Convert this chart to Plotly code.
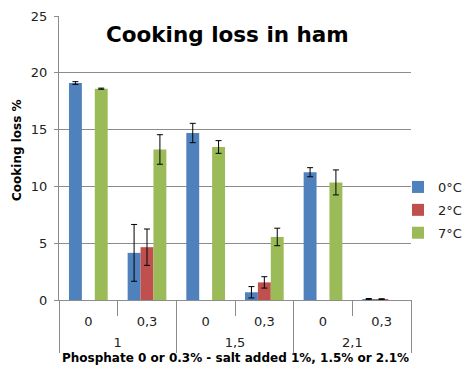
import plotly.graph_objects as go

salt = ["1", "1", "1,5", "1,5", "2,1", "2,1"]
phosphate = ["0", "0,3", "0", "0,3", "0", "0,3"]
salt_groups = ["1", "1,5", "2,1"]

series_names = ["0°C", "2°C", "7°C"]
colors = ["#4F81BD", "#C0504D", "#9BBB59"]

val_0 = [19.1, 4.15, 14.7, 0.68, 11.25, 0.08]
err_0 = [0.12, 2.5, 0.85, 0.5, 0.4, 0.05]
val_2 = [None, 4.65, None, 1.55, None, 0.08]
err_2 = [None, 1.6, None, 0.5, None, 0.03]
val_7 = [18.6, 13.25, 13.47, 5.55, 10.35, None]
err_7 = [0.05, 1.3, 0.56, 0.77, 1.1, None]

vals = [val_0, val_2, val_7]
errs = [err_0, err_2, err_7]

keys = [f"{s} | {p}" for s, p in zip(salt, phosphate)]
n = len(keys)
group_centers = [i + 0.5 for i in range(0, n, 2)]
group_bounds = [i - 0.5 for i in range(0, n + 1, 2)]

fig = go.Figure()
for name, c, v, e in zip(series_names, colors, vals, errs):
    fig.add_trace(go.Bar(
        x=keys, y=v, name=name, marker_color=c,
        marker_line_width=0, legendgroup=name,
        error_y=dict(type="data", array=e, visible=True, color="black",
                     thickness=1, width=3),
    ))
# invisible carrier for the outer (salt) axis
fig.add_trace(go.Scatter(x=group_centers, y=[0] * len(group_centers), xaxis="x2",
                         mode="markers", marker=dict(opacity=0), showlegend=False,
                         hoverinfo="skip"))

fnt = "DejaVu Sans, Verdana, sans-serif"
W, H = 466, 365
L, R, T = 59, 411, 16
AX, AX2 = 300, 353
pw, ph = R - L, AX2 - T

def px(x):
    return (x - L) / pw

def py(y):
    return (AX2 - y) / ph

grey = "#8C8C8C"
fig.update_layout(
    width=W, height=H,
    margin=dict(l=L, r=W - R, t=T, b=H - AX2, autoexpand=False),
    paper_bgcolor="white", plot_bgcolor="white",
    barmode="group", bargap=0.34, bargroupgap=0,
    font=dict(family=fnt, size=12, color="#222"),
    showlegend=True,
    legend=dict(x=px(398), y=py(210), xanchor="left", yanchor="middle",
                font=dict(size=13, color="#222"), itemwidth=30,
                tracegroupgap=3, bgcolor="rgba(0,0,0,0)"),
    annotations=[
        dict(text="<b>Cooking loss in ham</b>", x=px(227), y=py(35),
             xref="paper", yref="paper", xanchor="center", yanchor="middle",
             showarrow=False, font=dict(size=21.5, color="black", family=fnt)),
        dict(text="<b>Cooking loss %</b>", x=px(17), y=py(150),
             xref="paper", yref="paper", xanchor="center", yanchor="middle",
             textangle=-90, showarrow=False, font=dict(size=12, color="black", family=fnt)),
        dict(text="<b>Phosphate 0 or 0.3% - salt added 1%, 1.5% or 2.1%</b>",
             x=px(235), y=py(358), xref="paper", yref="paper",
             xanchor="center", yanchor="middle", showarrow=False,
             font=dict(size=12, color="black", family=fnt)),
    ],
    yaxis=dict(domain=[py(AX), 1], range=[0, 25], dtick=5, showgrid=True,
               gridcolor=grey, gridwidth=1, showline=True, linecolor=grey,
               linewidth=1, ticks="outside", ticklen=4, tickcolor=grey,
               ticklabelstandoff=4,
               automargin=False, tickfont=dict(size=13, color="#222"),
               zeroline=False),
    xaxis=dict(type="category", tickvals=keys, ticktext=phosphate,
               tickson="boundaries", showline=True, linecolor=grey, linewidth=1,
               ticks="outside", ticklen=15, tickcolor=grey, automargin=False,
               ticklabelstandoff=9,
               tickfont=dict(size=13, color="#222"), showgrid=False),
    xaxis2=dict(overlaying="x", anchor="free", position=0, type="linear",
                range=[-0.5, n - 0.5], tickvals=group_centers, ticktext=salt_groups,
                ticks="", showline=False, showgrid=False, zeroline=False,
                ticklabelposition="inside", automargin=False,
                tickfont=dict(size=13, color="#222"),
                minor=dict(tickvals=group_bounds, ticks="inside", ticklen=AX2 - AX,
                           tickcolor=grey, tickwidth=1, showgrid=False)),
)

fig.write_html("out.html", config={"displayModeBar": False},
               post_script="document.body.style.margin='0';document.body.style.padding='0';")
